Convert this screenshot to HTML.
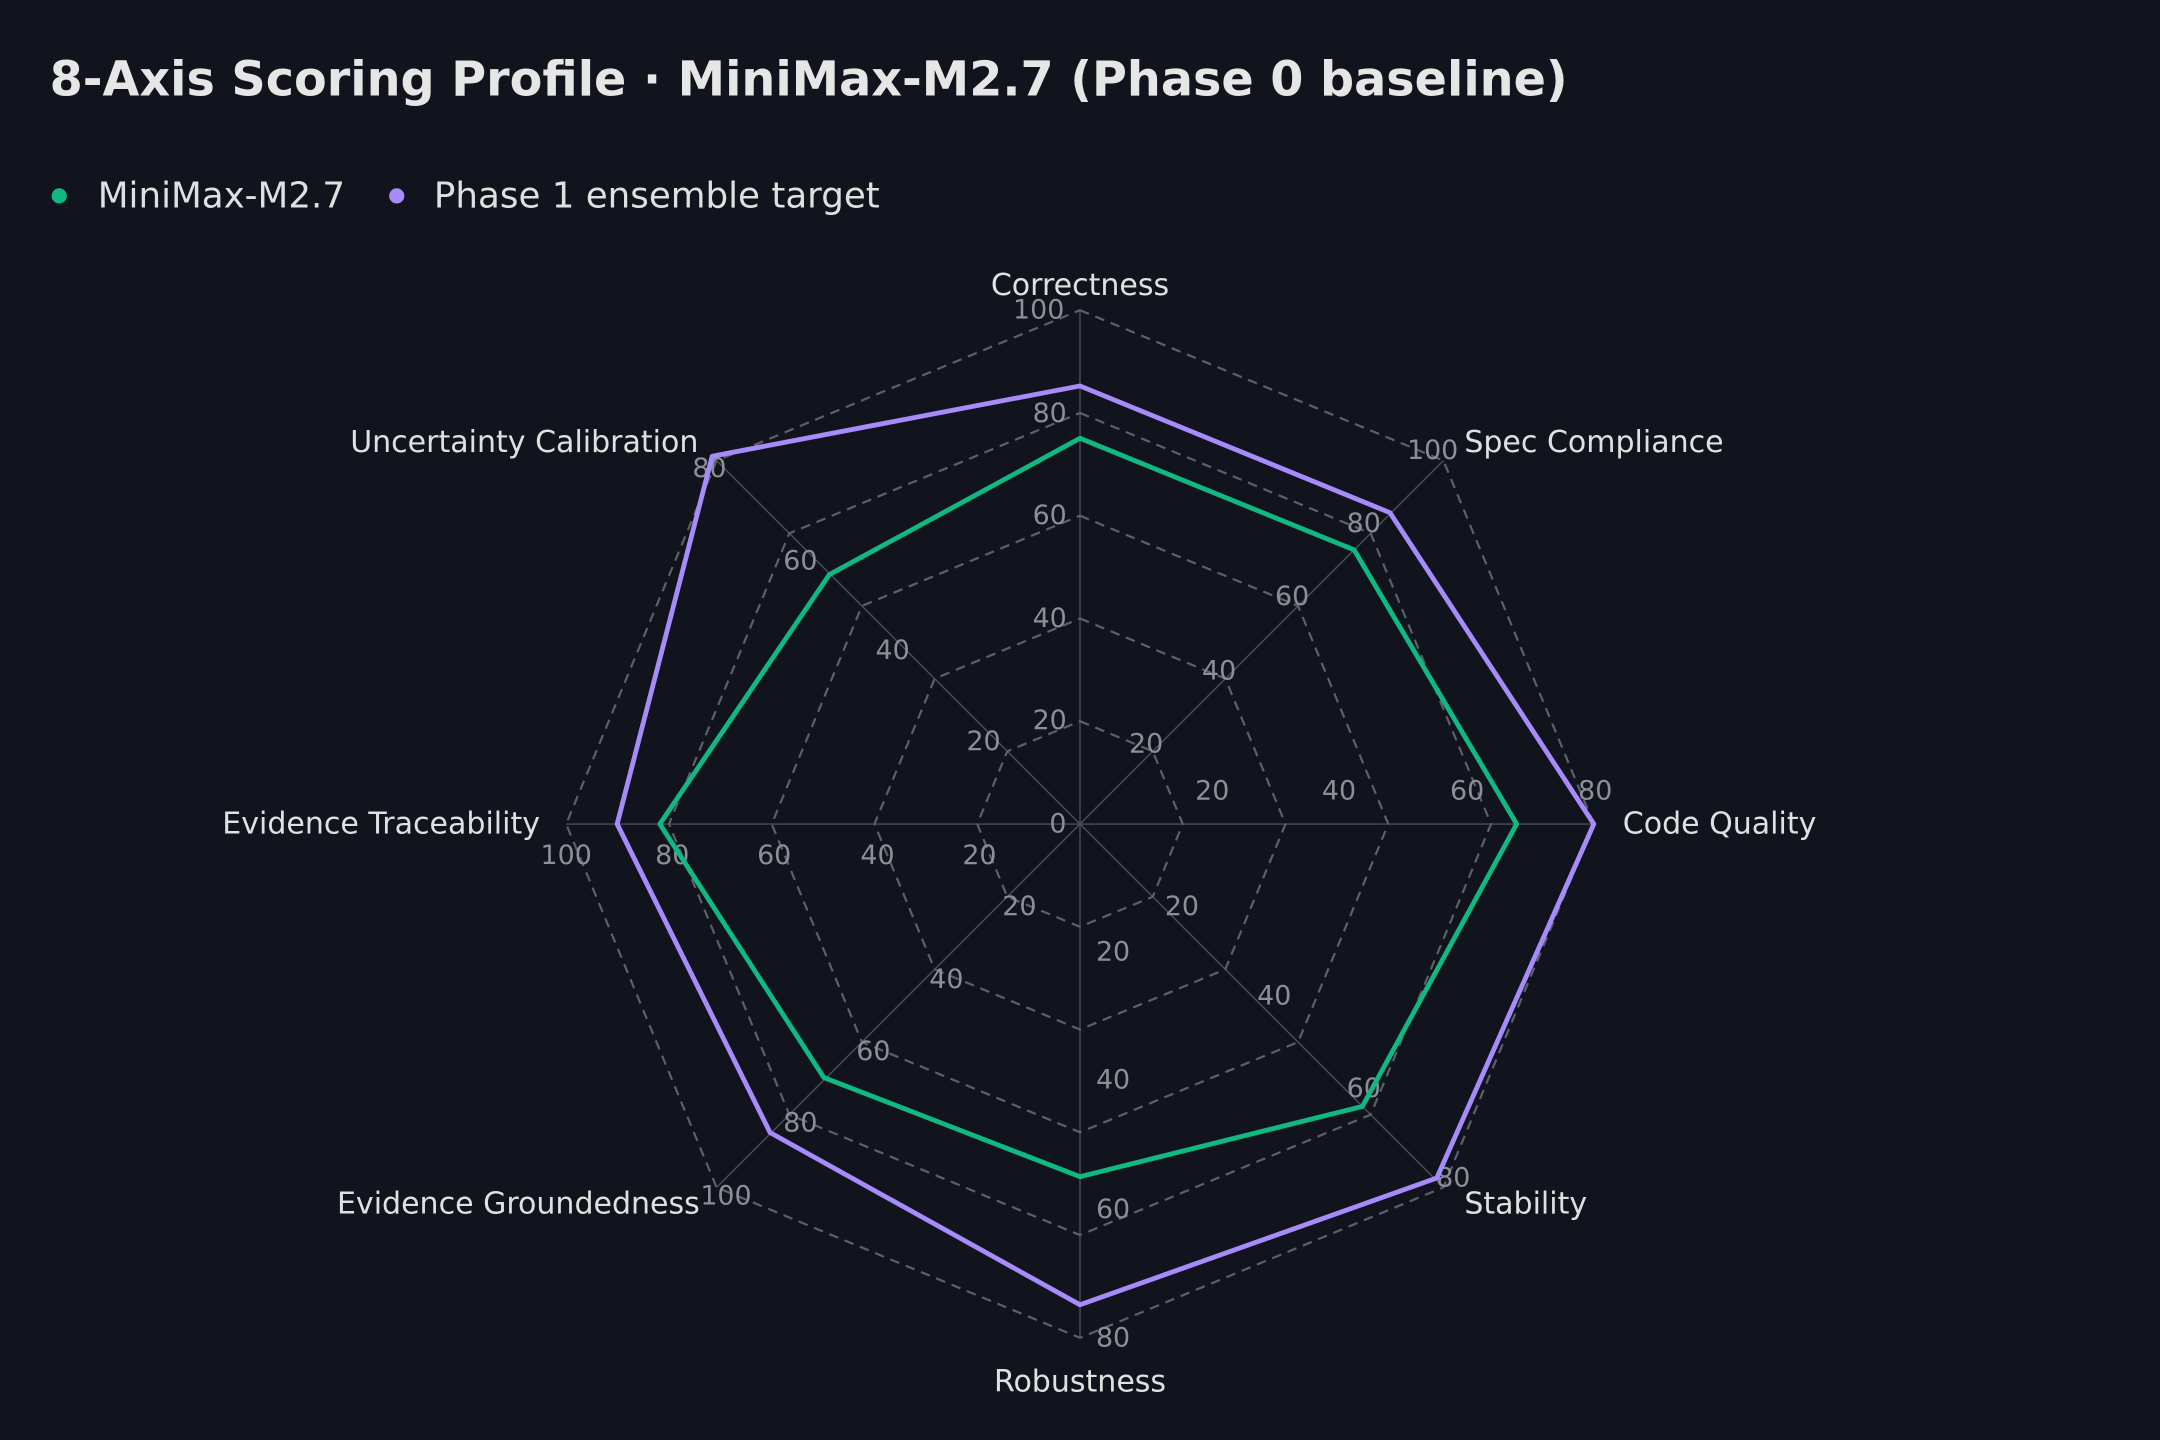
<!DOCTYPE html>
<html><head><meta charset="utf-8"><style>
html,body{margin:0;padding:0;background:#11141c;}
svg{display:block;}
text{font-family:"DejaVu Sans","Liberation Sans",sans-serif;}
</style></head><body>
<svg width="2160" height="1440" viewBox="0 0 1568 1045" xmlns="http://www.w3.org/2000/svg">
<rect width="1568" height="1045" fill="#11141c"/>
<text x="36" y="58" font-size="34.6" font-weight="bold" fill="#e6e6e6" dominant-baseline="central">8-Axis Scoring Profile · MiniMax-M2.7 (Phase 0 baseline)</text>
<circle cx="43" cy="142" r="5.5" fill="#10b981"/>
<text x="71" y="142" font-size="25.9" fill="#e0e0e0" dominant-baseline="central">MiniMax-M2.7</text>
<circle cx="288" cy="142" r="5.5" fill="#a78bfa"/>
<text x="315" y="142" font-size="25.9" fill="#e0e0e0" dominant-baseline="central">Phase 1 ensemble target</text>
<g stroke="#4a4e56" stroke-width="1">
<line x1="784" y1="598" x2="784" y2="225"/>
<line x1="784" y1="598" x2="1047.8" y2="334.2"/>
<line x1="784" y1="598" x2="1157" y2="598"/>
<line x1="784" y1="598" x2="1047.8" y2="861.8"/>
<line x1="784" y1="598" x2="784" y2="971"/>
<line x1="784" y1="598" x2="520.2" y2="861.8"/>
<line x1="784" y1="598" x2="411" y2="598"/>
<line x1="784" y1="598" x2="520.2" y2="334.2"/>
</g>
<g fill="none" stroke="#5c6068" stroke-width="1.6" stroke-dasharray="7,5">
<polygon points="784,523.4 836.8,545.2 858.6,598 836.8,650.8 784,672.6 731.2,650.8 709.4,598 731.2,545.2"/>
<polygon points="784,448.8 889.5,492.5 933.2,598 889.5,703.5 784,747.2 678.5,703.5 634.8,598 678.5,492.5"/>
<polygon points="784,374.2 942.3,439.7 1007.8,598 942.3,756.3 784,821.8 625.7,756.3 560.2,598 625.7,439.7"/>
<polygon points="784,299.6 995,387 1082.4,598 995,809 784,896.4 573,809 485.6,598 573,387"/>
<polygon points="784,225 1047.8,334.2 1157,598 1047.8,861.8 784,971 520.2,861.8 411,598 520.2,334.2"/>
</g>
<g font-size="19.5" fill="#8b8f96" text-anchor="middle" dominant-baseline="central">
<text x="768" y="598">0</text><text x="762" y="523">20</text><text x="762" y="449">40</text><text x="762" y="374">60</text><text x="762" y="300">80</text><text x="754" y="225">100</text>
<text x="832" y="540">20</text><text x="885" y="487">40</text><text x="938" y="433">60</text><text x="990" y="380">80</text><text x="1040" y="327">100</text>
<text x="880" y="574">20</text><text x="972" y="574">40</text><text x="1065" y="574">60</text><text x="1158" y="574">80</text>
<text x="858" y="658">20</text><text x="925" y="723">40</text><text x="990" y="790">60</text><text x="1055" y="855">80</text>
<text x="808" y="691">20</text><text x="808" y="784">40</text><text x="808" y="878">60</text><text x="808" y="971">80</text>
<text x="740" y="658">20</text><text x="687" y="711">40</text><text x="634" y="763">60</text><text x="581" y="815">80</text><text x="527" y="868">100</text>
<text x="711" y="621">20</text><text x="637" y="621">40</text><text x="562" y="621">60</text><text x="488" y="621">80</text><text x="411" y="621">100</text>
<text x="714" y="538">20</text><text x="648" y="472">40</text><text x="581" y="407">60</text><text x="515" y="340">80</text>
</g>
<polygon points="784,318 983,399 1101,598 989,803 784,854 598,782 479,598 602,417" fill="none" stroke="#10b981" stroke-width="3.5" stroke-linejoin="round"/>
<polygon points="784,280 1009,372 1157,598 1043,855 784,947 559,822 448,598 517,331" fill="none" stroke="#a78bfa" stroke-width="3.5" stroke-linejoin="round"/>
<g font-size="21.8" fill="#e0e0e0" dominant-baseline="central">
<text x="784" y="207" text-anchor="middle">Correctness</text>
<text x="1063" y="321">Spec Compliance</text>
<text x="1178" y="598">Code Quality</text>
<text x="1063" y="874">Stability</text>
<text x="784" y="1003" text-anchor="middle">Robustness</text>
<text x="508" y="874" text-anchor="end">Evidence Groundedness</text>
<text x="392" y="598" text-anchor="end">Evidence Traceability</text>
<text x="507" y="321" text-anchor="end">Uncertainty Calibration</text>
</g>
</svg>
</body></html>
